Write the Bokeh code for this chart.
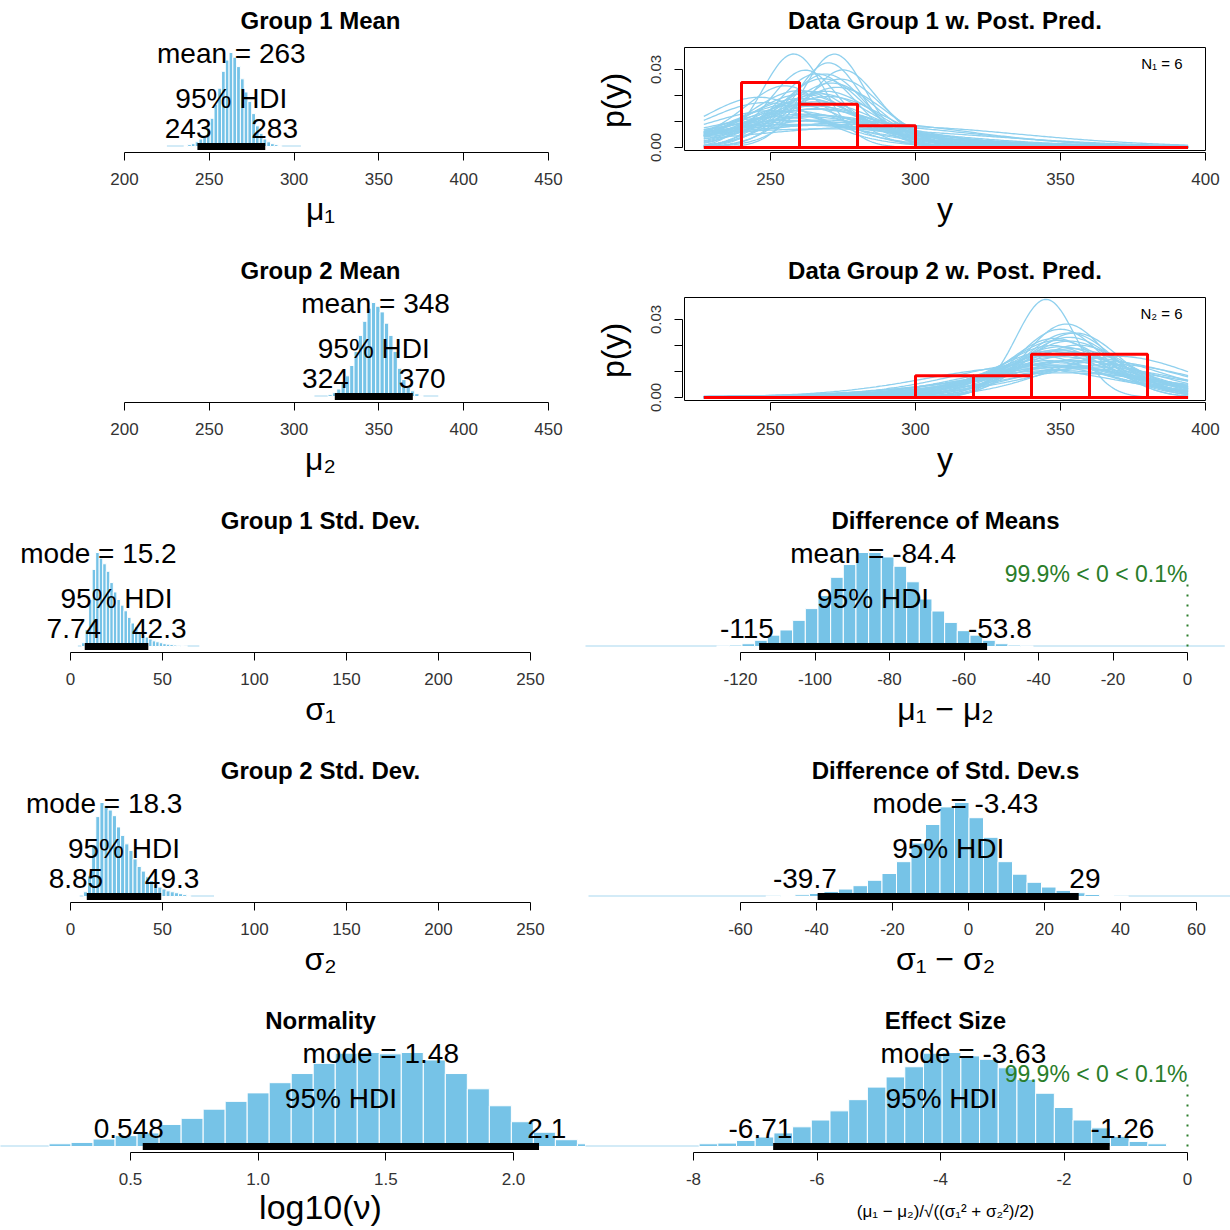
import math
import numpy as np
from bokeh.plotting import figure
from bokeh.models import Range1d, FixedTicker, Label, LinearAxis
from bokeh.layouts import column, row
from bokeh.embed import file_html
from bokeh.resources import INLINE

FONT = "Liberation Sans"
SKY = "#76c3e7"
CURVE = "#8fd0ee"
TAIL = "#d3ebf7"
GREEN = "#2a7d2a"

# ---------------- posterior summaries (histogram bar heights, relative) ----------------
# Group 1 mean
mu1_mean = 263
mu1_hdi = [243, 283]
mu1_bin_start = 235.0
mu1_heights = [1, 2, 3, 5, 8, 12, 20, 30, 45, 62, 80, 92, 100, 95, 85, 72, 58, 48, 35, 22, 14, 8, 5, 3, 2, 1]
mu1_tail = [225, 304]
mu_ticks = [200, 250, 300, 350, 400, 450]

# Group 2 mean
mu2_mean = 348
mu2_hdi = [324, 370]
mu2_bin_start = 320.0
mu2_heights = [2, 4, 8, 15, 22, 33, 48, 65, 80, 94, 100, 96, 90, 78, 65, 48, 30, 18, 10, 6, 3, 1]
mu2_tail = [312, 385]

# Group 1 std. dev.
sd1_mode = 15.2
sd1_hdi = [7.74, 42.3]
sd1_bin_start = 6.0
sd1_heights = [4, 18, 50, 82, 100, 94, 88, 80, 68, 58, 50, 44, 38, 31, 25, 21, 16, 12, 10, 8,
               6, 5, 4, 3, 2.5, 2, 1.5, 1.2, 1, 0.8]
sd1_tail = [4, 70]
sd_ticks = [0, 50, 100, 150, 200, 250]

# Group 2 std. dev.
sd2_mode = 18.3
sd2_hdi = [8.85, 49.3]
sd2_bin_start = 7.0
sd2_heights = [5, 22, 55, 85, 100, 97, 92, 86, 74, 65, 56, 49, 40, 32, 27, 21, 17, 13, 10, 8,
               6, 5, 4, 3, 2, 1]
sd2_tail = [5, 78]

# Difference of means
dmu_mean = -84.4
dmu_hdi = [-115, -53.8]
dmu_bin_start = -126.4
dmu_heights = [2, 4, 8, 18, 33, 48, 76, 110, 148, 201, 238, 273, 273, 260, 233, 188, 138, 103,
               70, 46, 33, 18, 8, 4, 2]
dmu_tail = [-175, 10]
dmu_ticks = [-120, -100, -80, -60, -40, -20, 0]
dmu_pct = [99.9, 0.1]

# Difference of std. devs
dsd_mode = -3.43
dsd_hdi = [-39.7, 29]
dsd_bin_start = -53.3
dsd_heights = [2, 3, 5, 9, 15, 22, 32, 48, 68, 103, 158, 213, 265, 278, 233, 175, 103, 66, 42,
               28, 18, 11, 6, 3, 2]
dsd_tail = [-100, 75]
dsd_ticks = [-60, -40, -20, 0, 20, 40, 60]

# Normality, log10(nu)
nu_mode = 1.48
nu_hdi = [0.548, 2.1]
nu_bin_start = 0.181
nu_heights = [8, 12, 22, 32, 40, 65, 83, 110, 133, 158, 188, 215, 245, 275, 277, 273, 277, 255,
              215, 170, 120, 73, 42, 20, 8]
nu_tail = [-0.05, 2.4]
nu_ticks = [0.5, 1.0, 1.5, 2.0]
nu_tick_labels = ["0.5", "1.0", "1.5", "2.0"]

# Effect size
es_mode = -3.63
es_hdi = [-6.71, -1.26]
es_bin_start = -7.909
es_heights = [8, 10, 18, 28, 40, 58, 78, 105, 138, 175, 205, 235, 275, 277, 267, 257, 232, 198,
              157, 115, 78, 55, 30, 15, 8]
es_tail = [-9.8, -0.35]
es_ticks = [-8, -6, -4, -2, 0]
es_pct = [99.9, 0.1]

# ---------------- data and posterior predictive draws ----------------
y_bin_edges = [220, 240, 260, 280, 300, 320, 340, 360, 380, 400]
y1_counts = [0, 3, 2, 1, 0, 0, 0, 0, 0]
y2_counts = [0, 0, 0, 0, 1, 1, 2, 2, 0]
ppc_limits = [227, 394]
ppc_ticks = [250, 300, 350, 400]
ppc_yticks = [0, 0.01, 0.02, 0.03]
ppc_ytick_labels = ["0.00", "", "", "0.03"]

pp1_mu = [258, 272, 262, 266, 270, 255, 268, 264, 260, 275, 263, 267, 259, 271, 265, 261, 269, 257,
          273, 264, 262, 266, 268, 260, 270, 263, 265, 258, 267, 262, 274, 261, 266, 264, 269, 256,
          248, 250, 252, 246, 275, 270, 280, 290]
pp1_sigma = [11, 11, 13, 14, 12, 16, 15, 17, 18, 13, 20, 19, 22, 16, 24, 21, 18, 26, 17, 28, 30, 25,
             33, 23, 20, 36, 27, 40, 31, 45, 15, 19, 22, 29, 14, 35,
             22, 26, 30, 20, 45, 55, 40, 48]
pp1_nu = [30, 25, 8, 40, 12, 5, 60, 3, 20, 9, 4, 15, 2.5, 35, 6, 50, 10, 3, 18, 2, 7, 4, 1.8, 25,
          14, 3, 45, 2.2, 5, 6, 22, 11, 8, 1.5, 28, 2.8,
          5, 3, 2, 8, 30, 20, 10, 15]

pp2_mu = [345, 352, 350, 348, 355, 347, 353, 349, 351, 346, 354, 350, 348, 352, 356, 349, 347, 351,
          353, 350, 344, 355, 348, 352, 349, 351, 346, 354, 350, 353,
          365, 368, 360, 362, 358, 370, 340, 335]
pp2_sigma = [10.5, 14, 15, 17, 16, 19, 18, 20, 22, 21, 24, 25, 27, 23, 19, 29, 31, 26, 17, 33, 22,
             28, 36, 30, 18, 40, 24, 21, 20, 16,
             28, 30, 26, 32, 35, 25, 30, 34]
pp2_nu = [40, 30, 20, 8, 50, 5, 12, 3, 25, 4, 9, 15, 2.5, 35, 6, 2, 10, 3, 18, 7, 1.8, 45, 4, 2.2,
          28, 5, 1.5, 22, 11, 60,
          10, 6, 20, 4, 8, 30, 6, 10]

# ---------------- layout constants (page pixels) ----------------
LEFT_W, RIGHT_W = 585, 645
ROW_H = [250, 250, 250, 250, 230]
FRAME_B = 152      # axis line, from top of each row
BASE = 146         # histogram baseline
PXU = 0.94         # pixels per relative-height unit (peak = 100)
MAIN = 28          # annotation text size


def t_pdf(x, mu, sigma, nu):
    c = (math.lgamma((nu + 1) / 2) - math.lgamma(nu / 2)
         - 0.5 * math.log(nu * math.pi) - math.log(sigma))
    z = (x - mu) / sigma
    return np.exp(c - (nu + 1) / 2 * np.log1p(z * z / nu))


CHAR_W = {"-": 0.333, ".": 0.278, " ": 0.278}


def text_w(s, size):
    return sum(CHAR_W.get(c, 0.556) for c in s) * size


def fmt(v):
    return f"{v:g}"


def ypx(px):
    """Histogram-panel y value for a row-relative pixel position."""
    return (BASE - px) / PXU


def label(p, x, y, text, size, align="center", baseline="middle", color="black",
          bold=False, x_offset=0):
    p.add_layout(Label(x=x, y=y, text=text, text_font=FONT, text_font_size=f"{size}px",
                       text_align=align, text_baseline=baseline, text_color=color,
                       text_font_style="bold" if bold else "normal", x_offset=x_offset))


def axis_title(p, side, pos, text, size, standoff, vertical=False):
    """An axis carrying a single tick label: used as the axis title, centred at `pos`."""
    ax = LinearAxis(ticker=FixedTicker(ticks=[pos]), major_label_overrides={pos: text},
                    axis_line_color=None, major_tick_line_color=None, major_tick_in=0,
                    major_tick_out=0, minor_tick_line_color=None,
                    major_label_text_font=FONT, major_label_text_font_size=f"{size}px",
                    major_label_text_color="black", major_label_standoff=standoff)
    if vertical:
        ax.major_label_orientation = "vertical"
    p.add_layout(ax, side)


def style_xaxis(p, ticks, labels=None):
    ax = p.xaxis[0]
    ax.ticker = FixedTicker(ticks=ticks)
    ax.bounds = (ticks[0], ticks[-1])
    ax.major_tick_in = 0
    ax.major_tick_out = 8
    ax.minor_tick_line_color = None
    ax.axis_line_color = "black"
    ax.major_tick_line_color = "black"
    ax.major_label_text_font = FONT
    ax.major_label_text_font_size = "17px"
    ax.major_label_text_color = "#333333"
    ax.major_label_standoff = 12
    if labels is None:
        labels = [fmt(t) for t in ticks]
    ax.major_label_overrides = {t: l for t, l in zip(ticks, labels)}


def hist_panel(col_x0, width, height, title, xlabel, ticks, tick_px, bin_start, heights,
               hdi, center, kind, tail, center_px, xlabel_size=32, xlabel_standoff=3,
               tick_labels=None, pct=None):
    scale = (tick_px[1] - tick_px[0]) / (ticks[-1] - ticks[0])
    x0 = ticks[0] + (col_x0 - tick_px[0]) / scale
    x1 = ticks[0] + (col_x0 + width - tick_px[0]) / scale
    p = figure(width=width, height=height, output_backend="svg", toolbar_location=None,
               x_range=Range1d(x0, x1),
               y_range=Range1d(ypx(FRAME_B), ypx(0)),
               y_axis_location=None, min_border_left=0, min_border_right=0,
               min_border_top=0, min_border_bottom=height - FRAME_B,
               outline_line_color=None, background_fill_color="white",
               border_fill_color="white")
    p.xgrid.visible = False
    p.ygrid.visible = False
    style_xaxis(p, ticks, tick_labels)

    bw = (hdi[1] - hdi[0]) / 18
    h = np.array(heights, dtype=float)
    h = h / h.max() * 100
    edges = bin_start + bw * np.arange(len(h) + 1)

    p.segment(x0=[tail[0]], y0=[0.6], x1=[tail[1]], y1=[0.6], line_color=TAIL, line_width=2)
    p.quad(left=edges[:-1], right=edges[1:], bottom=0, top=h, fill_color=SKY,
           line_color="white", line_width=1)
    p.segment(x0=[hdi[0]], y0=[0], x1=[hdi[1]], y1=[0], line_color="black", line_width=7,
              line_cap="butt")

    xc = ticks[0] + (center_px - tick_px[0]) / scale
    label(p, xc, ypx(20), title, 24, bold=True)
    axis_title(p, "below", xc, xlabel, xlabel_size, xlabel_standoff)

    label(p, center, ypx(53), f"{kind} = {fmt(center)}", MAIN)
    label(p, (hdi[0] + hdi[1]) / 2, ypx(98), "95% HDI", MAIN)
    lo, hi = fmt(hdi[0]), fmt(hdi[1])
    label(p, hdi[0], ypx(128), lo, MAIN, align="left", x_offset=-0.7 * text_w(lo, MAIN))
    label(p, hdi[1], ypx(128), hi, MAIN, align="left", x_offset=-0.3 * text_w(hi, MAIN))

    if pct is not None:
        label(p, 0, ypx(73), f"{fmt(pct[0])}% < 0 < {fmt(pct[1])}%", 23, align="right",
              color=GREEN)
        p.segment(x0=[0], y0=[0], x1=[0], y1=[ypx(83)], line_color=GREEN, line_width=2,
                  line_dash="2 8")
    return p


def ppc_panel(title, mus, sigmas, nus, counts, sub):
    width, height = RIGHT_W, 250
    box_l, box_r = 684, 1205                # page pixels of the plotting box
    frame_l, frame_r = 682, 1207
    top, bottom, zero = 47, 150, 147
    ppu = 2600.0                            # pixels per density unit
    scale = (1205 - 770) / (ppc_ticks[-1] - ppc_ticks[0])

    def xv(px):
        return ppc_ticks[0] + (px - 770) / scale

    x0, x1 = xv(frame_l), xv(frame_r)
    p = figure(width=width, height=height, output_backend="svg", toolbar_location=None,
               x_range=Range1d(x0, x1),
               y_range=Range1d(-(FRAME_B - zero) / ppu, zero / ppu),
               min_border_left=frame_l - LEFT_W, min_border_right=LEFT_W + RIGHT_W - frame_r,
               min_border_top=0, min_border_bottom=height - FRAME_B,
               outline_line_color=None,
               background_fill_color="white", border_fill_color="white")
    p.xgrid.visible = False
    p.ygrid.visible = False
    style_xaxis(p, ppc_ticks)

    ay = p.yaxis[0]
    ay.ticker = FixedTicker(ticks=ppc_yticks)
    ay.bounds = (ppc_yticks[0], ppc_yticks[-1])
    ay.major_label_overrides = {t: l for t, l in zip(ppc_yticks, ppc_ytick_labels)}
    ay.major_label_orientation = "vertical"
    ay.major_tick_in = 0
    ay.major_tick_out = 8
    ay.minor_tick_line_color = None
    ay.axis_line_color = "black"
    ay.major_label_text_font = FONT
    ay.major_label_text_font_size = "15px"
    ay.major_label_text_color = "#333333"
    ay.major_label_standoff = 14
    axis_title(p, "left", (zero - 100) / ppu, "p(y)", 32, 17, vertical=True)

    # plotting box
    p.quad(left=[xv(box_l)], right=[xv(box_r)], bottom=[-(bottom - zero) / ppu],
           top=[(zero - top) / ppu], fill_color=None, line_color="black", line_width=1)

    xs = np.linspace(ppc_limits[0], ppc_limits[1], 240)
    p.multi_line(xs=[xs] * len(mus),
                 ys=[t_pdf(xs, m, s, n) for m, s, n in zip(mus, sigmas, nus)],
                 line_color=CURVE, line_width=1.3)

    e = np.array(y_bin_edges, dtype=float)
    c = np.array(counts, dtype=float)
    dens = c / (c.sum() * np.diff(e))
    keep = c > 0
    p.segment(x0=[ppc_limits[0]], y0=[0], x1=[ppc_limits[1]], y1=[0], line_color="red",
              line_width=3)
    p.quad(left=e[:-1][keep], right=e[1:][keep], bottom=0, top=dens[keep], fill_color=None,
           line_color="red", line_width=3)

    xc = xv((box_l + box_r) / 2)
    label(p, xc, (zero - 20) / ppu, title, 24, bold=True)
    axis_title(p, "below", xc, "y", 32, 3)
    label(p, xv(box_r), (zero - 63) / ppu, f"N{sub} = {int(c.sum())}", 15, align="right",
          x_offset=-23)
    return p


L0, R0 = 0, LEFT_W

p1 = hist_panel(L0, LEFT_W, ROW_H[0], "Group 1 Mean", "μ₁", mu_ticks, (124, 548),
                mu1_bin_start, mu1_heights, mu1_hdi, mu1_mean, "mean", mu1_tail, 320)
p2 = ppc_panel("Data Group 1 w. Post. Pred.", pp1_mu, pp1_sigma, pp1_nu, y1_counts, "₁")
p3 = hist_panel(L0, LEFT_W, ROW_H[1], "Group 2 Mean", "μ₂", mu_ticks, (124, 548),
                mu2_bin_start, mu2_heights, mu2_hdi, mu2_mean, "mean", mu2_tail, 320)
p4 = ppc_panel("Data Group 2 w. Post. Pred.", pp2_mu, pp2_sigma, pp2_nu, y2_counts, "₂")
p5 = hist_panel(L0, LEFT_W, ROW_H[2], "Group 1 Std. Dev.", "σ₁", sd_ticks, (70, 530),
                sd1_bin_start, sd1_heights, sd1_hdi, sd1_mode, "mode", sd1_tail, 320)
p6 = hist_panel(R0, RIGHT_W, ROW_H[2], "Difference of Means", "μ₁ − μ₂", dmu_ticks,
                (740, 1187), dmu_bin_start, dmu_heights, dmu_hdi, dmu_mean, "mean", dmu_tail,
                945, pct=dmu_pct)
p7 = hist_panel(L0, LEFT_W, ROW_H[3], "Group 2 Std. Dev.", "σ₂", sd_ticks, (70, 530),
                sd2_bin_start, sd2_heights, sd2_hdi, sd2_mode, "mode", sd2_tail, 320)
p8 = hist_panel(R0, RIGHT_W, ROW_H[3], "Difference of Std. Dev.s", "σ₁ − σ₂", dsd_ticks,
                (740, 1196), dsd_bin_start, dsd_heights, dsd_hdi, dsd_mode, "mode", dsd_tail,
                945)
p9 = hist_panel(L0, LEFT_W, ROW_H[4], "Normality", "log10(ν)", nu_ticks, (130, 513),
                nu_bin_start, nu_heights, nu_hdi, nu_mode, "mode", nu_tail, 320,
                xlabel_size=34, xlabel_standoff=0, tick_labels=nu_tick_labels)
p10 = hist_panel(R0, RIGHT_W, ROW_H[4], "Effect Size", "(μ₁ − μ₂)/√((σ₁² + σ₂²)/2)", es_ticks,
                 (693, 1187), es_bin_start, es_heights, es_hdi, es_mode, "mode", es_tail, 945,
                 xlabel_size=17, xlabel_standoff=14, pct=es_pct)

layout = column(row(p1, p2), row(p3, p4), row(p5, p6), row(p7, p8), row(p9, p10))

open("out.html", "w").write(file_html(layout, INLINE, title="BEST posterior"))
